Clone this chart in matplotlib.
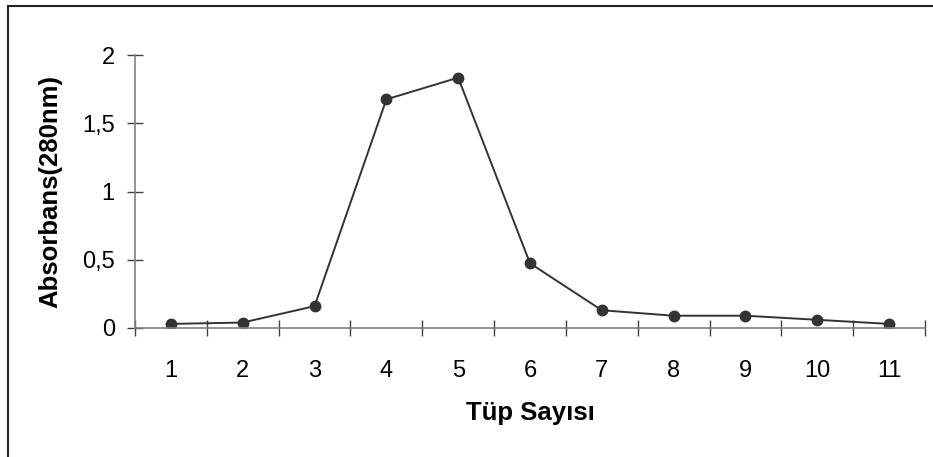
import matplotlib.pyplot as plt
from matplotlib.patches import Rectangle
from matplotlib.ticker import FuncFormatter

# veriler
tup_no = [1, 2, 3, 4, 5, 6, 7, 8, 9, 10, 11]
absorbans = [0.03, 0.04, 0.16, 1.675, 1.834, 0.474, 0.13, 0.09, 0.09, 0.06, 0.03]
y_ticks = [0, 0.5, 1, 1.5, 2]

plt.rcParams["font.family"] = ["Liberation Sans", "DejaVu Sans"]

W, H = 933, 457
fig = plt.figure(figsize=(W / 100, H / 100), dpi=100)
ax = fig.add_axes([135 / W, 1 - 328 / H, (925 - 135) / W, (328 - 55) / H])

ax.plot(tup_no, absorbans, color="#333333", linewidth=1.4,
        marker="o", markersize=7.5, markerfacecolor="#333333",
        markeredgecolor="#333333")

ax.set_xlim(0.5, 11.5)
ax.set_ylim(0, 2)

spine_col = "#808080"
for s in ["top", "right"]:
    ax.spines[s].set_visible(False)
for s in ["left", "bottom"]:
    ax.spines[s].set_color(spine_col)
    ax.spines[s].set_linewidth(1.2)

ax.set_yticks(y_ticks)
ax.yaxis.set_major_formatter(FuncFormatter(lambda v, p: f"{v:g}".replace(".", ",")))
ax.tick_params(axis="y", direction="inout", length=11, width=1, color="#404040",
               labelsize=17, pad=9)

# x: etiketler kategorilerin ortasında, çentikler sınırlarda
ax.set_xticks(tup_no)
ax.set_xticklabels([str(t) for t in tup_no])
ax.tick_params(axis="x", which="major", length=0, labelsize=17, pad=23)
ax.set_xticks([t + 0.5 for t in [0] + tup_no], minor=True)
ax.tick_params(axis="x", which="minor", direction="inout", length=11, width=1,
               color="#404040")

ax.set_xlabel("Tüp Sayısı", fontsize=18.5, fontweight="bold", va="center")
ax.xaxis.set_label_coords(0.5, (328 - 413) / 273)
ax.set_ylabel("Absorbans(280nm)", fontsize=18.5, fontweight="bold", va="center")
ax.yaxis.set_label_coords((50 - 135) / 790, 0.5)

# dış çerçeve (sağ ve alt kenar görüntü dışında)
fig.patches.append(Rectangle((8 / W, -10 / H), (W + 10) / W, (H + 10 - 6) / H,
                             transform=fig.transFigure, fill=False,
                             edgecolor="#222222", linewidth=1.5))

fig.savefig("out.png", dpi=100)
